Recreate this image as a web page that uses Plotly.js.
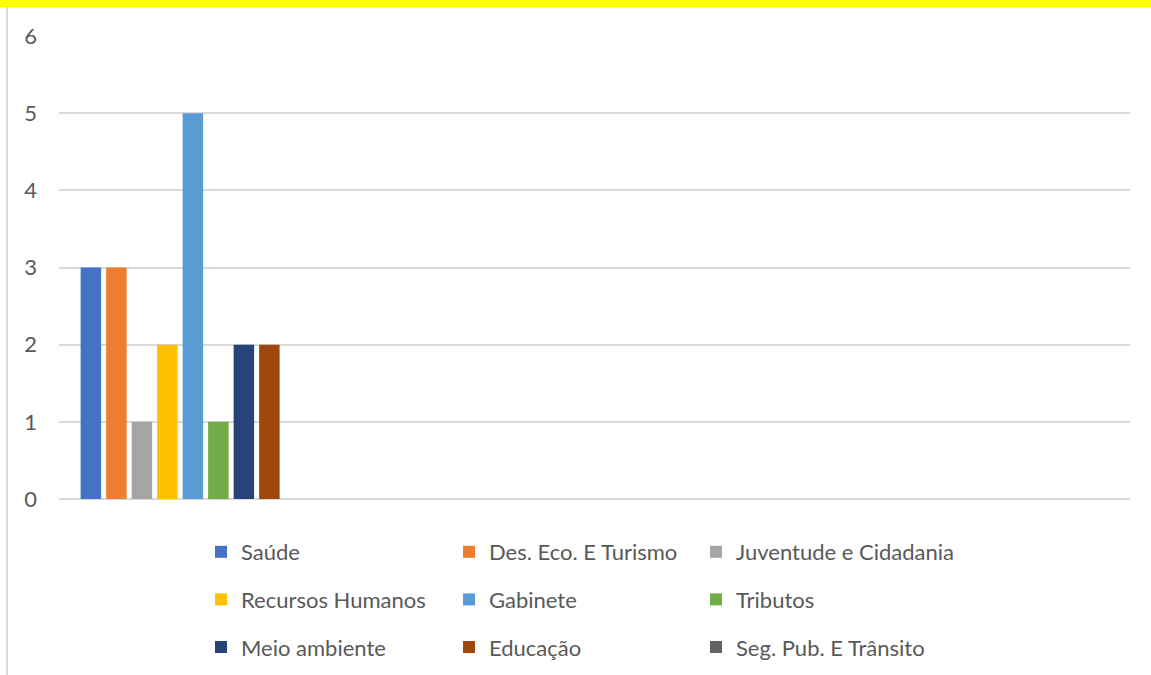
<!DOCTYPE html>
<html>
<head>
<meta charset="utf-8">
<script src="https://cdn.plot.ly/plotly-3.0.1.min.js"></script>
<style>html,body{margin:0;padding:0;background:#fff;}#chart{width:1151px;height:675px;}</style>
</head>
<body>
<div id="chart"></div>
<script>
const seriesNames = ["Saúde", "Des. Eco. E Turismo", "Juventude e Cidadania", "Recursos Humanos", "Gabinete", "Tributos", "Meio ambiente", "Educação", "Seg. Pub. E Trânsito"];
const seriesValues = [3, 3, 1, 2, 5, 1, 2, 2, 0];
const seriesColors = ["#4472C4", "#ED7D31", "#A5A5A5", "#FFC000", "#5B9BD5", "#70AD47", "#264478", "#9E480E", "#636363"];
const yTicks = [0, 1, 2, 3, 4, 5, 6];

const legendIds = ["legend", "legend2", "legend3"];
const traces = seriesNames.map((name, i) => ({
  type: "bar",
  name: name,
  x: [0],
  y: [seriesValues[i]],
  marker: {color: seriesColors[i]},
  legend: legendIds[i % 3],
  legendgroup: "g" + i,
  hoverinfo: "name+y"
}));

const font = {family: "Lato, 'Open Sans', sans-serif", size: 22, color: "#595959"};
function leg(xpx) {
  return {
    xref: "container", yref: "container",
    x: xpx / 1151, y: 1 - 531 / 675,
    xanchor: "left", yanchor: "top",
    orientation: "v",
    font: font,
    bgcolor: "rgba(0,0,0,0)",
    tracegroupgap: 16,
    itemclick: false, itemdoubleclick: false
  };
}

const layout = {
  width: 1151, height: 675,
  margin: {l: 59, r: 21, t: 36, b: 176, autoexpand: false},
  paper_bgcolor: "#ffffff",
  plot_bgcolor: "#ffffff",
  font: font,
  barmode: "group",
  bargap: 0.143,
  bargroupgap: 0.196,
  showlegend: true,
  xaxis: {
    range: [-0.5, 3.5],
    showticklabels: false,
    showgrid: false,
    zeroline: false,
    showline: false,
    ticks: "",
    fixedrange: true
  },
  yaxis: {
    range: [0, 6],
    tickvals: yTicks,
    ticktext: yTicks.map(String),
    showgrid: true,
    gridcolor: "#D9D9D9",
    gridwidth: 2,
    zeroline: true,
    zerolinecolor: "#D9D9D9",
    zerolinewidth: 2,
    showline: false,
    ticks: "",
    ticklabelstandoff: 21,
    tickfont: font,
    fixedrange: true
  },
  legend: leg(201),
  legend2: leg(449),
  legend3: leg(696),
  shapes: [
    {type: "rect", xref: "paper", yref: "paper", xsizemode: "pixel", ysizemode: "pixel",
     xanchor: 0, yanchor: 1, x0: -70, x1: 1100, y0: 29, y1: 40,
     fillcolor: "#FFFF00", line: {width: 0}, layer: "above"},
    {type: "line", xref: "paper", yref: "paper", xsizemode: "pixel", ysizemode: "pixel",
     xanchor: 0, yanchor: 0, x0: -52, x1: -52, y0: -180, y1: 492,
     line: {color: "#D9D9D9", width: 2}, layer: "below"}
  ]
};

Plotly.newPlot("chart", traces, layout, {displayModeBar: false, staticPlot: true});
</script>
</body>
</html>
